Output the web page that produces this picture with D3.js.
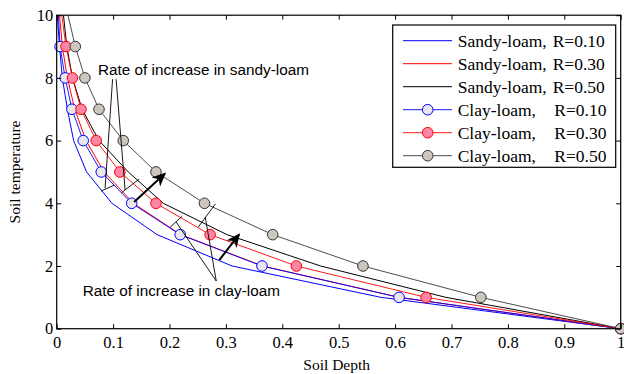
<!DOCTYPE html>
<html>
<head>
<meta charset="utf-8">
<script src="https://cdn.jsdelivr.net/npm/d3@7"></script>
<style>
  html, body { margin: 0; padding: 0; background: #fff; }
  svg { display: block; }
</style>
</head>
<body>
<svg id="chart" width="624" height="374"></svg>
<script>
// Temperature levels at which each profile is sampled (top of frame down to 0)
const tempLevels = [10, 9, 8, 7, 6, 5, 4, 3, 2, 1, 0];

// Soil depth reached at each temperature level, per soil type and R
const sandyR10 = [0.001, 0.005, 0.010, 0.019, 0.030, 0.053, 0.098, 0.178, 0.311, 0.575, 1];
const sandyR30 = [0.005, 0.010, 0.019, 0.032, 0.052, 0.084, 0.136, 0.220, 0.365, 0.607, 1];
const sandyR50 = [0.012, 0.018, 0.028, 0.045, 0.075, 0.127, 0.189, 0.302, 0.468, 0.690, 1];
const clayR10  = [0.003, 0.006, 0.015, 0.027, 0.047, 0.079, 0.133, 0.219, 0.364, 0.607, 1];
const clayR30  = [0.009, 0.0165, 0.028, 0.043, 0.070, 0.112, 0.176, 0.272, 0.425, 0.655, 1];
const clayR50  = [0.020, 0.033, 0.050, 0.075, 0.118, 0.176, 0.262, 0.383, 0.543, 0.752, 1];

// Axis ticks
const xTicks = [0, 0.1, 0.2, 0.3, 0.4, 0.5, 0.6, 0.7, 0.8, 0.9, 1];
const xTickLabels = ["0", "0.1", "0.2", "0.3", "0.4", "0.5", "0.6", "0.7", "0.8", "0.9", "1"];
const yTicks = [0, 2, 4, 6, 8, 10];
const yTickLabels = ["0", "2", "4", "6", "8", "10"];

// Series legend entries
const seriesNames = ["Sandy-loam,", "Sandy-loam,", "Sandy-loam,", "Clay-loam,", "Clay-loam,", "Clay-loam,"];
const seriesR = ["R=0.10", "R=0.30", "R=0.50", "R=0.10", "R=0.30", "R=0.50"];

// Annotation geometry in data units [depth, temperature]
const sandyNote = { text: "Rate of increase in sandy-loam", at: [0.0733, 8.09] };
const clayNote = { text: "Rate of increase in clay-loam", at: [0.0462, 1.04] };
const pointerLines = [
  [[0.0991, 7.96], [0.0858, 4.476]],
  [[0.1053, 7.96], [0.1213, 4.42]],
  [[0.2829, 1.52], [0.2119, 3.40]],
  [[0.2829, 1.52], [0.2634, 3.56]]
];
const crossBars = [
  [[0.0787, 4.39], [0.1018, 4.58]],
  [[0.1142, 4.33], [0.1462, 4.77]],
  [[0.2012, 3.24], [0.2226, 3.59]],
  [[0.2510, 3.24], [0.2812, 3.975]]
];
const arrows = [
  [[0.1373, 4.04], [0.1920, 4.95]],
  [[0.2883, 2.19], [0.3235, 3.01]]
];

const svg = d3.select("#chart");
const plotLeft = 56.7, plotRight = 620.7, plotTop = 15.2, plotBottom = 328.7;

const x = d3.scaleLinear().domain([0, 1]).range([plotLeft, plotRight]);
const y = d3.scaleLinear().domain([0, 10]).range([plotBottom, plotTop]);

const serif = "'Liberation Serif', 'Times New Roman', serif";
const sans = "'Liberation Sans', Arial, sans-serif";

const defs = svg.append("defs");
defs.append("clipPath").attr("id", "plotClip")
  .append("rect").attr("x", plotLeft).attr("y", plotTop)
  .attr("width", plotRight - plotLeft).attr("height", plotBottom - plotTop);

const series = [
  { depth: sandyR10, stroke: "#0000ff", width: 1, marker: null },
  { depth: sandyR30, stroke: "#ff0000", width: 1, marker: null },
  { depth: sandyR50, stroke: "#000000", width: 1, marker: null },
  { depth: clayR10, stroke: "#0000ff", width: 0.9, marker: { fill: "#e8e8ec", stroke: "#0000ff" } },
  { depth: clayR30, stroke: "#ff0000", width: 0.9, marker: { fill: "#ff85a6", stroke: "#ff0000" } },
  { depth: clayR50, stroke: "#3a3a3a", width: 0.9, marker: { fill: "#cbc7bf", stroke: "#333333" } }
];

const line = d3.line().x(d => x(d[0])).y(d => y(d[1]));

const plot = svg.append("g").attr("clip-path", "url(#plotClip)");

series.forEach(s => {
  const pts = s.depth.map((d, i) => [d, tempLevels[i]]);
  plot.append("path")
    .attr("d", line(pts))
    .attr("fill", "none")
    .attr("stroke", s.stroke)
    .attr("stroke-width", s.width);
});

// Markers (the top level is where each curve leaves the frame, so no marker there)
series.forEach(s => {
  if (!s.marker) return;
  const pts = s.depth.map((d, i) => [d, tempLevels[i]]).slice(1);
  svg.append("g").selectAll("circle").data(pts).join("circle")
    .attr("cx", d => x(d[0]))
    .attr("cy", d => y(d[1]))
    .attr("r", 5.3)
    .attr("fill", s.marker.fill)
    .attr("stroke", s.marker.stroke)
    .attr("stroke-width", 1);
});

// Annotations
const ann = svg.append("g").attr("stroke", "#000").attr("fill", "none");
pointerLines.concat(crossBars).forEach(seg => {
  ann.append("line")
    .attr("x1", x(seg[0][0])).attr("y1", y(seg[0][1]))
    .attr("x2", x(seg[1][0])).attr("y2", y(seg[1][1]))
    .attr("stroke-width", 0.9);
});

defs.append("marker")
  .attr("id", "arrowHead")
  .attr("viewBox", "0 0 10 10")
  .attr("refX", 9).attr("refY", 5)
  .attr("markerWidth", 7).attr("markerHeight", 7)
  .attr("markerUnits", "strokeWidth")
  .attr("orient", "auto")
  .append("path").attr("d", "M0,0.5 L10,5 L0,9.5 L3,5 Z").attr("fill", "#000");

arrows.forEach(seg => {
  svg.append("line")
    .attr("x1", x(seg[0][0])).attr("y1", y(seg[0][1]))
    .attr("x2", x(seg[1][0])).attr("y2", y(seg[1][1]))
    .attr("stroke", "#000").attr("stroke-width", 2)
    .attr("marker-end", "url(#arrowHead)");
});

[sandyNote, clayNote].forEach(n => {
  svg.append("text")
    .attr("x", x(n.at[0])).attr("y", y(n.at[1]))
    .attr("font-family", sans).attr("font-size", 15.3)
    .attr("fill", "#000")
    .text(n.text);
});

// Axes with inward ticks on all four sides
const xAxis = svg.append("g").attr("transform", `translate(0,${plotBottom})`)
  .call(d3.axisBottom(x).tickValues(xTicks).tickSize(-4.5).tickPadding(8)
    .tickFormat((d, i) => xTickLabels[i]));
const yAxis = svg.append("g").attr("transform", `translate(${plotLeft},0)`)
  .call(d3.axisLeft(y).tickValues(yTicks).tickSize(-4.5).tickPadding(3.5)
    .tickFormat((d, i) => yTickLabels[i]));
const xTop = svg.append("g").attr("transform", `translate(0,${plotTop})`)
  .call(d3.axisTop(x).tickValues(xTicks).tickSize(-4.5).tickFormat(""));
const yRight = svg.append("g").attr("transform", `translate(${plotRight},0)`)
  .call(d3.axisRight(y).tickValues(yTicks).tickSize(-4.5).tickFormat(""));

[xAxis, yAxis, xTop, yRight].forEach(g => {
  g.select(".domain").remove();
  g.selectAll("line").attr("stroke", "#000").attr("stroke-width", 1);
  g.selectAll("text").attr("font-family", serif).attr("font-size", 16.5).attr("fill", "#000");
});

svg.append("rect")
  .attr("x", plotLeft).attr("y", plotTop)
  .attr("width", plotRight - plotLeft).attr("height", plotBottom - plotTop)
  .attr("fill", "none").attr("stroke", "#000").attr("stroke-width", 1.2);

// Axis titles
svg.append("text")
  .attr("x", (plotLeft + plotRight) / 2 - 2).attr("y", 370)
  .attr("text-anchor", "middle")
  .attr("font-family", serif).attr("font-size", 15.5)
  .text("Soil Depth");
svg.append("text")
  .attr("transform", `translate(20,${(plotTop + plotBottom) / 2}) rotate(-90)`)
  .attr("text-anchor", "middle")
  .attr("font-family", serif).attr("font-size", 15.5)
  .text("Soil temperature");

// Legend
const lg = svg.append("g");
lg.append("rect")
  .attr("x", 392.7).attr("y", 25)
  .attr("width", 223).attr("height", 142.3)
  .attr("fill", "#fff").attr("stroke", "#000").attr("stroke-width", 1.2);

series.forEach((s, i) => {
  const cy = 40.7 + i * 23;
  lg.append("line")
    .attr("x1", 403).attr("x2", 452).attr("y1", cy).attr("y2", cy)
    .attr("stroke", s.stroke).attr("stroke-width", s.width);
  if (s.marker) {
    lg.append("circle").attr("cx", 427.7).attr("cy", cy).attr("r", 5.3)
      .attr("fill", s.marker.fill).attr("stroke", s.marker.stroke).attr("stroke-width", 1);
  }
  const t = lg.append("text")
    .attr("y", cy + 6)
    .attr("font-family", serif).attr("font-size", 17.5).attr("fill", "#000");
  t.append("tspan").attr("x", 457.7).text(seriesNames[i]);
  t.append("tspan").attr("x", i < 3 ? 552.7 : 554.3).text(seriesR[i]);
});
</script>
</body>
</html>
